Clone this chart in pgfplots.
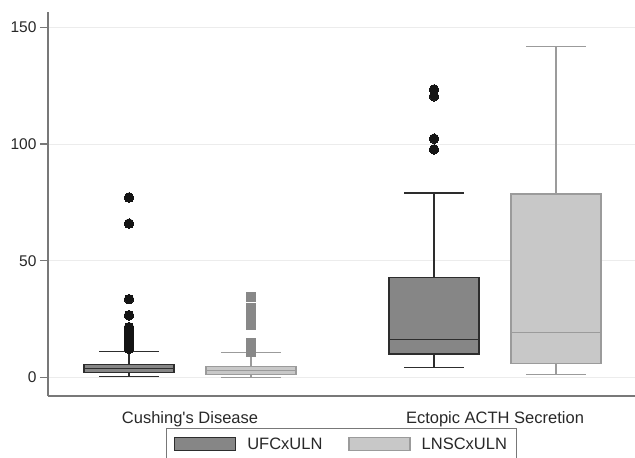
\documentclass[border=0pt]{standalone}
\usepackage{fontspec}
\setmainfont{Liberation Sans}
\usepackage{pgfplots}
\pgfplotsset{compat=1.18}
\usepgfplotslibrary{statistics}
\definecolor{ufcfill}{RGB}{134,134,134}
\definecolor{ufcedge}{RGB}{45,45,45}
\definecolor{lnscfill}{RGB}{200,200,200}
\definecolor{lnscedge}{RGB}{155,155,155}
\definecolor{lnscout}{RGB}{136,136,136}
\definecolor{outdot}{RGB}{20,20,20}
\definecolor{gridgray}{RGB}{236,236,236}
\definecolor{axisgray}{RGB}{120,120,120}
\definecolor{txt}{RGB}{40,40,40}
\begin{document}
\begin{tikzpicture}
\begin{axis}[
  at={(48bp,62bp)}, anchor=south west,
  scale only axis, width=587bp, height=384bp,
  xmin=48, xmax=635, ymin=-8, ymax=156.6,
  axis x line*=bottom, axis y line*=left,
  axis line style={-, draw=axisgray, line width=1.3bp},
  ytick={0,50,100,150},
  xtick={190,495},
  xticklabels={Cushing\textquotesingle s Disease, Ectopic ACTH Secretion},
  tick align=outside,
  major tick length=8bp,
  y tick style={draw=axisgray, line width=1.1bp},
  x tick style={draw=none},
  ymajorgrids,
  grid style={draw=gridgray, line width=0.9bp},
  /pgf/number format/assume math mode=true,
  yticklabel style={font=\fontsize{15.5bp}{18bp}\selectfont, text=txt},
  xticklabel style={font=\fontsize{16.5bp}{19bp}\selectfont, text=txt, yshift=-4bp},
  legend style={at={(0.5,-0.0833)}, anchor=north, draw=axisgray, line width=1bp,
    font=\fontsize{16.5bp}{19bp}\selectfont, text=txt,
    inner xsep=7bp, inner ysep=7bp,
    /tikz/every odd column/.append style={column sep=9bp},
    /tikz/every even column/.append style={column sep=24bp}},
  legend columns=2,
  legend cell align=left,
  boxplot/draw direction=y,
  boxplot/every median/.style={line width=1.4bp},
  boxplot/every whisker/.style={line width=1.4bp},
]
\addlegendimage{legend image code/.code={\draw[draw=ufcedge, fill=ufcfill, line width=1.3bp] (0bp,-6.3bp) rectangle (61bp,6.3bp);}}
\addlegendentry{UFCxULN}
\addlegendimage{legend image code/.code={\draw[draw=lnscedge, fill=lnscfill, line width=1.3bp] (0bp,-6.3bp) rectangle (61bp,6.3bp);}}
\addlegendentry{LNSCxULN}

% Cushing's Disease - UFC
\addplot[boxplot prepared={draw position=129, lower whisker=0.3, lower quartile=2.1,
    median=3.7, upper quartile=5.6, upper whisker=11.1, box extend=90, whisker extend=60},
  boxplot/every box/.style={fill=ufcfill, line width=1.4bp},
  draw=ufcedge, line width=1.4bp,
  mark=*, mark size=4.8bp, mark options={draw=outdot, fill=outdot, line width=0pt}]
  coordinates {(0,77.1) (0,65.9) (0,33.5) (0,26.6) (0,21.5) (0,20.0) (0,18.5) (0,17.0)
    (0,16.0) (0,15.0) (0,14.0) (0,13.0) (0,12.2)};

% Cushing's Disease - LNSC
\addplot[boxplot prepared={draw position=251, lower whisker=0.0, lower quartile=1.3,
    median=3.0, upper quartile=4.7, upper whisker=10.7, box extend=90, whisker extend=60},
  boxplot/every box/.style={fill=lnscfill, line width=1.4bp},
  draw=lnscedge, line width=1.4bp,
  mark=square*, mark size=4.5bp, mark options={draw=lnscout, fill=lnscout, line width=0pt}]
  coordinates {(0,34.5) (0,29.8) (0,27.0) (0,24.5) (0,22.6) (0,14.8) (0,12.8) (0,11.0)};

% Ectopic ACTH - UFC
\addplot[boxplot prepared={draw position=434, lower whisker=4.1, lower quartile=10.0,
    median=16.3, upper quartile=42.7, upper whisker=79.0, box extend=90, whisker extend=60},
  boxplot/every box/.style={fill=ufcfill, line width=1.4bp},
  draw=ufcedge, line width=1.4bp,
  mark=*, mark size=4.8bp, mark options={draw=outdot, fill=outdot, line width=0pt}]
  coordinates {(0,123.4) (0,120.5) (0,102.3) (0,97.7)};

% Ectopic ACTH - LNSC
\addplot[boxplot prepared={draw position=556, lower whisker=1.3, lower quartile=6.0,
    median=19.1, upper quartile=78.6, upper whisker=141.7, box extend=90, whisker extend=60},
  boxplot/every box/.style={fill=lnscfill, line width=1.4bp},
  draw=lnscedge, line width=1.4bp]
  coordinates {};
\end{axis}
\pgfresetboundingbox
\path[use as bounding box] (0,0) rectangle (635bp,458bp);
\end{tikzpicture}
\end{document}
